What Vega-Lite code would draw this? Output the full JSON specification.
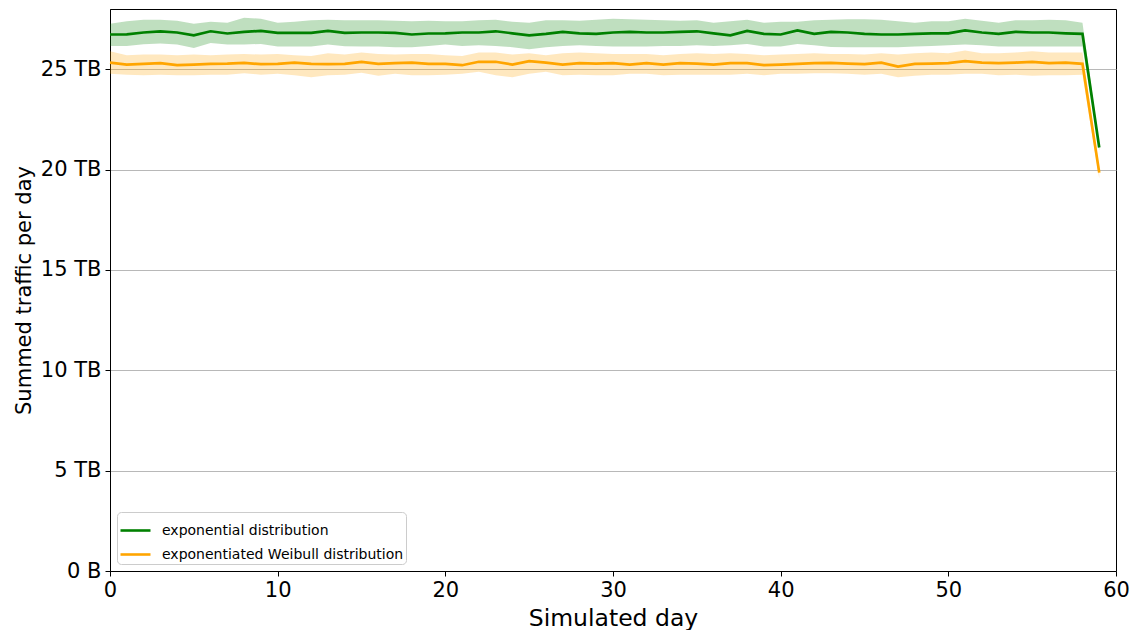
{
  "$schema": "https://vega.github.io/schema/vega-lite/v6.json",
  "width": 1006,
  "height": 562,
  "autosize": {"type": "none"},
  "padding": {"left": 110, "top": 9, "right": 16, "bottom": 59},
  "background": "white",
  "config": {
    "font": "DejaVu Sans",
    "view": {"stroke": "black", "strokeWidth": 1},
    "axis": {
      "domainColor": "black",
      "tickColor": "black",
      "tickSize": 5,
      "labelColor": "black",
      "labelFontSize": 21,
      "titleColor": "black",
      "titleFontSize": 21,
      "titleFontWeight": "normal"
    }
  },
  "datasets": {
    "traffic": [
      {"day": 0, "series": "exponential distribution", "mean": 26.73, "low": 26.16, "high": 27.27},
      {"day": 1, "series": "exponential distribution", "mean": 26.74, "low": 26.16, "high": 27.39},
      {"day": 2, "series": "exponential distribution", "mean": 26.83, "low": 26.25, "high": 27.46},
      {"day": 3, "series": "exponential distribution", "mean": 26.89, "low": 26.28, "high": 27.46},
      {"day": 4, "series": "exponential distribution", "mean": 26.83, "low": 26.23, "high": 27.41},
      {"day": 5, "series": "exponential distribution", "mean": 26.69, "low": 26.06, "high": 27.27},
      {"day": 6, "series": "exponential distribution", "mean": 26.89, "low": 26.31, "high": 27.36},
      {"day": 7, "series": "exponential distribution", "mean": 26.78, "low": 26.23, "high": 27.32},
      {"day": 8, "series": "exponential distribution", "mean": 26.86, "low": 26.23, "high": 27.56},
      {"day": 9, "series": "exponential distribution", "mean": 26.91, "low": 26.26, "high": 27.52},
      {"day": 10, "series": "exponential distribution", "mean": 26.81, "low": 26.13, "high": 27.32},
      {"day": 11, "series": "exponential distribution", "mean": 26.81, "low": 26.13, "high": 27.36},
      {"day": 12, "series": "exponential distribution", "mean": 26.81, "low": 26.13, "high": 27.44},
      {"day": 13, "series": "exponential distribution", "mean": 26.91, "low": 26.23, "high": 27.46},
      {"day": 14, "series": "exponential distribution", "mean": 26.81, "low": 26.15, "high": 27.44},
      {"day": 15, "series": "exponential distribution", "mean": 26.83, "low": 26.13, "high": 27.44},
      {"day": 16, "series": "exponential distribution", "mean": 26.83, "low": 26.13, "high": 27.44},
      {"day": 17, "series": "exponential distribution", "mean": 26.81, "low": 26.10, "high": 27.42},
      {"day": 18, "series": "exponential distribution", "mean": 26.73, "low": 26.10, "high": 27.39},
      {"day": 19, "series": "exponential distribution", "mean": 26.78, "low": 26.16, "high": 27.41},
      {"day": 20, "series": "exponential distribution", "mean": 26.79, "low": 26.23, "high": 27.39},
      {"day": 21, "series": "exponential distribution", "mean": 26.83, "low": 26.16, "high": 27.39},
      {"day": 22, "series": "exponential distribution", "mean": 26.83, "low": 26.20, "high": 27.44},
      {"day": 23, "series": "exponential distribution", "mean": 26.89, "low": 26.16, "high": 27.46},
      {"day": 24, "series": "exponential distribution", "mean": 26.79, "low": 26.10, "high": 27.36},
      {"day": 25, "series": "exponential distribution", "mean": 26.69, "low": 26.00, "high": 27.32},
      {"day": 26, "series": "exponential distribution", "mean": 26.76, "low": 26.10, "high": 27.44},
      {"day": 27, "series": "exponential distribution", "mean": 26.86, "low": 26.16, "high": 27.44},
      {"day": 28, "series": "exponential distribution", "mean": 26.79, "low": 26.20, "high": 27.42},
      {"day": 29, "series": "exponential distribution", "mean": 26.76, "low": 26.16, "high": 27.46},
      {"day": 30, "series": "exponential distribution", "mean": 26.83, "low": 26.13, "high": 27.52},
      {"day": 31, "series": "exponential distribution", "mean": 26.86, "low": 26.13, "high": 27.49},
      {"day": 32, "series": "exponential distribution", "mean": 26.83, "low": 26.13, "high": 27.46},
      {"day": 33, "series": "exponential distribution", "mean": 26.83, "low": 26.16, "high": 27.44},
      {"day": 34, "series": "exponential distribution", "mean": 26.86, "low": 26.16, "high": 27.42},
      {"day": 35, "series": "exponential distribution", "mean": 26.89, "low": 26.20, "high": 27.44},
      {"day": 36, "series": "exponential distribution", "mean": 26.79, "low": 26.16, "high": 27.32},
      {"day": 37, "series": "exponential distribution", "mean": 26.69, "low": 26.20, "high": 27.39},
      {"day": 38, "series": "exponential distribution", "mean": 26.91, "low": 26.26, "high": 27.46},
      {"day": 39, "series": "exponential distribution", "mean": 26.76, "low": 26.13, "high": 27.32},
      {"day": 40, "series": "exponential distribution", "mean": 26.73, "low": 26.13, "high": 27.36},
      {"day": 41, "series": "exponential distribution", "mean": 26.93, "low": 26.26, "high": 27.36},
      {"day": 42, "series": "exponential distribution", "mean": 26.76, "low": 26.20, "high": 27.44},
      {"day": 43, "series": "exponential distribution", "mean": 26.86, "low": 26.11, "high": 27.46},
      {"day": 44, "series": "exponential distribution", "mean": 26.83, "low": 26.10, "high": 27.49},
      {"day": 45, "series": "exponential distribution", "mean": 26.76, "low": 26.10, "high": 27.49},
      {"day": 46, "series": "exponential distribution", "mean": 26.73, "low": 26.10, "high": 27.46},
      {"day": 47, "series": "exponential distribution", "mean": 26.73, "low": 26.10, "high": 27.39},
      {"day": 48, "series": "exponential distribution", "mean": 26.76, "low": 26.13, "high": 27.32},
      {"day": 49, "series": "exponential distribution", "mean": 26.79, "low": 26.16, "high": 27.39},
      {"day": 50, "series": "exponential distribution", "mean": 26.79, "low": 26.20, "high": 27.39},
      {"day": 51, "series": "exponential distribution", "mean": 26.93, "low": 26.23, "high": 27.52},
      {"day": 52, "series": "exponential distribution", "mean": 26.83, "low": 26.20, "high": 27.42},
      {"day": 53, "series": "exponential distribution", "mean": 26.76, "low": 26.13, "high": 27.32},
      {"day": 54, "series": "exponential distribution", "mean": 26.86, "low": 26.13, "high": 27.44},
      {"day": 55, "series": "exponential distribution", "mean": 26.83, "low": 26.13, "high": 27.44},
      {"day": 56, "series": "exponential distribution", "mean": 26.83, "low": 26.13, "high": 27.46},
      {"day": 57, "series": "exponential distribution", "mean": 26.79, "low": 26.13, "high": 27.44},
      {"day": 58, "series": "exponential distribution", "mean": 26.76, "low": 26.13, "high": 27.32},
      {"day": 59, "series": "exponential distribution", "mean": 21.10, "low": 20.95, "high": 21.28},
      {"day": 0, "series": "exponentiated Weibull distribution", "mean": 25.33, "low": 24.78, "high": 25.90},
      {"day": 1, "series": "exponentiated Weibull distribution", "mean": 25.23, "low": 24.73, "high": 25.70},
      {"day": 2, "series": "exponentiated Weibull distribution", "mean": 25.27, "low": 24.70, "high": 25.73},
      {"day": 3, "series": "exponentiated Weibull distribution", "mean": 25.30, "low": 24.73, "high": 25.73},
      {"day": 4, "series": "exponentiated Weibull distribution", "mean": 25.20, "low": 24.70, "high": 25.70},
      {"day": 5, "series": "exponentiated Weibull distribution", "mean": 25.23, "low": 24.70, "high": 25.73},
      {"day": 6, "series": "exponentiated Weibull distribution", "mean": 25.27, "low": 24.73, "high": 25.70},
      {"day": 7, "series": "exponentiated Weibull distribution", "mean": 25.28, "low": 24.73, "high": 25.73},
      {"day": 8, "series": "exponentiated Weibull distribution", "mean": 25.32, "low": 24.80, "high": 25.76},
      {"day": 9, "series": "exponentiated Weibull distribution", "mean": 25.25, "low": 24.73, "high": 25.73},
      {"day": 10, "series": "exponentiated Weibull distribution", "mean": 25.27, "low": 24.77, "high": 25.76},
      {"day": 11, "series": "exponentiated Weibull distribution", "mean": 25.33, "low": 24.70, "high": 25.70},
      {"day": 12, "series": "exponentiated Weibull distribution", "mean": 25.27, "low": 24.60, "high": 25.66},
      {"day": 13, "series": "exponentiated Weibull distribution", "mean": 25.25, "low": 24.70, "high": 25.80},
      {"day": 14, "series": "exponentiated Weibull distribution", "mean": 25.27, "low": 24.73, "high": 25.73},
      {"day": 15, "series": "exponentiated Weibull distribution", "mean": 25.37, "low": 24.83, "high": 25.83},
      {"day": 16, "series": "exponentiated Weibull distribution", "mean": 25.27, "low": 24.67, "high": 25.76},
      {"day": 17, "series": "exponentiated Weibull distribution", "mean": 25.30, "low": 24.77, "high": 25.73},
      {"day": 18, "series": "exponentiated Weibull distribution", "mean": 25.33, "low": 24.70, "high": 25.76},
      {"day": 19, "series": "exponentiated Weibull distribution", "mean": 25.27, "low": 24.70, "high": 25.76},
      {"day": 20, "series": "exponentiated Weibull distribution", "mean": 25.27, "low": 24.73, "high": 25.70},
      {"day": 21, "series": "exponentiated Weibull distribution", "mean": 25.20, "low": 24.77, "high": 25.66},
      {"day": 22, "series": "exponentiated Weibull distribution", "mean": 25.37, "low": 24.87, "high": 25.83},
      {"day": 23, "series": "exponentiated Weibull distribution", "mean": 25.37, "low": 24.70, "high": 25.83},
      {"day": 24, "series": "exponentiated Weibull distribution", "mean": 25.23, "low": 24.60, "high": 25.73},
      {"day": 25, "series": "exponentiated Weibull distribution", "mean": 25.40, "low": 24.77, "high": 25.80},
      {"day": 26, "series": "exponentiated Weibull distribution", "mean": 25.33, "low": 24.87, "high": 25.70},
      {"day": 27, "series": "exponentiated Weibull distribution", "mean": 25.23, "low": 24.70, "high": 25.80},
      {"day": 28, "series": "exponentiated Weibull distribution", "mean": 25.30, "low": 24.73, "high": 25.83},
      {"day": 29, "series": "exponentiated Weibull distribution", "mean": 25.28, "low": 24.70, "high": 25.80},
      {"day": 30, "series": "exponentiated Weibull distribution", "mean": 25.30, "low": 24.70, "high": 25.76},
      {"day": 31, "series": "exponentiated Weibull distribution", "mean": 25.23, "low": 24.77, "high": 25.76},
      {"day": 32, "series": "exponentiated Weibull distribution", "mean": 25.30, "low": 24.77, "high": 25.76},
      {"day": 33, "series": "exponentiated Weibull distribution", "mean": 25.23, "low": 24.70, "high": 25.70},
      {"day": 34, "series": "exponentiated Weibull distribution", "mean": 25.30, "low": 24.73, "high": 25.76},
      {"day": 35, "series": "exponentiated Weibull distribution", "mean": 25.28, "low": 24.73, "high": 25.80},
      {"day": 36, "series": "exponentiated Weibull distribution", "mean": 25.23, "low": 24.73, "high": 25.76},
      {"day": 37, "series": "exponentiated Weibull distribution", "mean": 25.30, "low": 24.73, "high": 25.80},
      {"day": 38, "series": "exponentiated Weibull distribution", "mean": 25.30, "low": 24.77, "high": 25.76},
      {"day": 39, "series": "exponentiated Weibull distribution", "mean": 25.20, "low": 24.70, "high": 25.70},
      {"day": 40, "series": "exponentiated Weibull distribution", "mean": 25.23, "low": 24.77, "high": 25.73},
      {"day": 41, "series": "exponentiated Weibull distribution", "mean": 25.27, "low": 24.77, "high": 25.76},
      {"day": 42, "series": "exponentiated Weibull distribution", "mean": 25.30, "low": 24.80, "high": 25.80},
      {"day": 43, "series": "exponentiated Weibull distribution", "mean": 25.32, "low": 24.80, "high": 25.76},
      {"day": 44, "series": "exponentiated Weibull distribution", "mean": 25.28, "low": 24.77, "high": 25.76},
      {"day": 45, "series": "exponentiated Weibull distribution", "mean": 25.25, "low": 24.73, "high": 25.73},
      {"day": 46, "series": "exponentiated Weibull distribution", "mean": 25.33, "low": 24.77, "high": 25.80},
      {"day": 47, "series": "exponentiated Weibull distribution", "mean": 25.13, "low": 24.60, "high": 25.73},
      {"day": 48, "series": "exponentiated Weibull distribution", "mean": 25.27, "low": 24.67, "high": 25.80},
      {"day": 49, "series": "exponentiated Weibull distribution", "mean": 25.28, "low": 24.73, "high": 25.83},
      {"day": 50, "series": "exponentiated Weibull distribution", "mean": 25.30, "low": 24.73, "high": 25.80},
      {"day": 51, "series": "exponentiated Weibull distribution", "mean": 25.40, "low": 24.77, "high": 25.93},
      {"day": 52, "series": "exponentiated Weibull distribution", "mean": 25.33, "low": 24.77, "high": 25.80},
      {"day": 53, "series": "exponentiated Weibull distribution", "mean": 25.30, "low": 24.70, "high": 25.80},
      {"day": 54, "series": "exponentiated Weibull distribution", "mean": 25.33, "low": 24.73, "high": 25.83},
      {"day": 55, "series": "exponentiated Weibull distribution", "mean": 25.37, "low": 24.67, "high": 25.90},
      {"day": 56, "series": "exponentiated Weibull distribution", "mean": 25.30, "low": 24.70, "high": 25.83},
      {"day": 57, "series": "exponentiated Weibull distribution", "mean": 25.33, "low": 24.70, "high": 25.83},
      {"day": 58, "series": "exponentiated Weibull distribution", "mean": 25.27, "low": 24.73, "high": 25.83},
      {"day": 59, "series": "exponentiated Weibull distribution", "mean": 19.85, "low": 19.55, "high": 20.10}
    ]
  },
  "data": {"name": "traffic"},
  "encoding": {
    "x": {
      "field": "day",
      "type": "quantitative",
      "scale": {"domain": [0, 60], "nice": false, "zero": false},
      "axis": {
        "title": "Simulated day",
        "titleFontSize": 23.5,
        "values": [0, 10, 20, 30, 40, 50, 60],
        "format": "d",
        "grid": false,
        "labelPadding": 3,
        "labelFlush": false,
        "titleX": 503,
        "titleY": 54,
        "titleAlign": "center",
        "titleBaseline": "alphabetic"
      }
    },
    "color": {
      "field": "series",
      "type": "nominal",
      "scale": {
        "domain": ["exponential distribution", "exponentiated Weibull distribution"],
        "range": ["#008000", "#ffa500"]
      },
      "legend": {
        "title": null,
        "orient": "none",
        "legendX": 7,
        "legendY": 503,
        "symbolType": "stroke",
        "symbolSize": 900,
        "symbolStrokeWidth": 2.6,
        "symbolOpacity": 1,
        "labelFontSize": 14,
        "labelColor": "black",
        "labelLimit": 400,
        "labelOffset": 10,
        "rowPadding": -3,
        "padding": 2,
        "fillColor": "rgba(255,255,255,0.8)",
        "strokeColor": "#cccccc",
        "cornerRadius": 4
      }
    }
  },
  "layer": [
    {
      "mark": {"type": "area", "opacity": 0.25},
      "encoding": {
        "y": {
          "field": "low",
          "type": "quantitative",
          "scale": {"domain": [0, 28], "nice": false},
          "axis": {
            "title": "Summed traffic per day",
            "values": [0, 5, 10, 15, 20, 25],
            "labelExpr": "datum.value == 0 ? '0 B' : datum.value + ' TB'",
            "grid": true,
            "gridColor": "#b0b0b0",
            "gridWidth": 0.9,
            "labelPadding": 4,
            "titleX": -80,
            "titleY": 281,
            "titleAngle": -90,
            "titleAlign": "center",
            "titleBaseline": "alphabetic"
          }
        },
        "y2": {"field": "high"}
      }
    },
    {
      "mark": {"type": "line", "strokeWidth": 2.7},
      "encoding": {
        "y": {"field": "mean", "type": "quantitative"}
      }
    }
  ]
}
